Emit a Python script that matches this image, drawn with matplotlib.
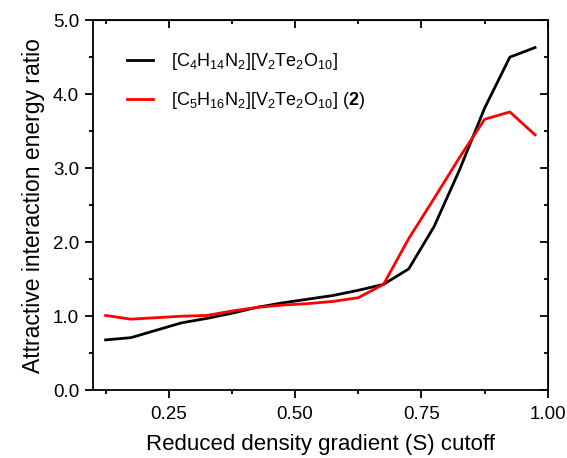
import matplotlib
matplotlib.use('Agg')
import matplotlib.pyplot as plt
from matplotlib.ticker import MultipleLocator

plt.rcParams['font.family'] = 'Liberation Sans'
plt.rcParams['mathtext.fontset'] = 'custom'
plt.rcParams['mathtext.rm'] = 'Liberation Sans'
plt.rcParams['mathtext.it'] = 'Liberation Sans:italic'
plt.rcParams['mathtext.bf'] = 'Liberation Sans:bold'
plt.rcParams['mathtext.default'] = 'regular'

# S cutoff values
s_cut = [0.125, 0.175, 0.225, 0.275, 0.325, 0.375, 0.425, 0.475, 0.525,
         0.575, 0.625, 0.675, 0.725, 0.775, 0.825, 0.875, 0.925, 0.975]
ratio_c4 = [0.68, 0.71, 0.81, 0.91, 0.97, 1.04, 1.12, 1.18, 1.23,
            1.28, 1.35, 1.43, 1.64, 2.21, 2.97, 3.81, 4.50, 4.63]
ratio_c5 = [1.01, 0.96, 0.98, 1.00, 1.01, 1.07, 1.12, 1.15, 1.17,
            1.20, 1.25, 1.43, 2.05, 2.59, 3.14, 3.66, 3.76, 3.45]

label_c4 = r'[C$_4$H$_{14}$N$_2$][V$_2$Te$_2$O$_{10}$]'
label_c5 = r'[C$_5$H$_{16}$N$_2$][V$_2$Te$_2$O$_{10}$] ($\mathbf{2}$)'

fig = plt.figure(figsize=(5.67, 4.58), dpi=100)
ax = fig.add_axes([0.164, 0.148, 0.802, 0.808])

ax.plot(s_cut, ratio_c4, color='black', lw=2.0, label=label_c4)
ax.plot(s_cut, ratio_c5, color='#ff0000', lw=2.0, label=label_c5)

ax.set_xlim(0.1, 1.0)
ax.set_ylim(0, 5)
ax.xaxis.set_minor_locator(MultipleLocator(0.125))
ax.yaxis.set_major_locator(MultipleLocator(1.0))
ax.yaxis.set_minor_locator(MultipleLocator(0.5))
ax.set_xticks([0.25, 0.5, 0.75, 1.0])
ax.set_xticklabels(['0.25', '0.50', '0.75', '1.00'])
ax.set_yticks([0, 1, 2, 3, 4, 5])
ax.set_yticklabels(['0.0', '1.0', '2.0', '3.0', '4.0', '5.0'])

for sp in ax.spines.values():
    sp.set_linewidth(1.3)

ax.tick_params(which='both', direction='out', width=1.3, labelsize=13.5)
ax.tick_params(axis='x', pad=5.5)
ax.tick_params(axis='y', pad=4)
ax.tick_params(which='major', length=6)
ax.tick_params(which='minor', length=3)

# mirrored ticks on top and right, pointing inward
top = ax.secondary_xaxis('top')
top.set_xticks([0.25, 0.5, 0.75, 1.0])
top.xaxis.set_minor_locator(MultipleLocator(0.125))
top.tick_params(which='both', direction='in', width=1.3, labeltop=False)
top.tick_params(which='major', length=6)
top.tick_params(which='minor', length=3)
right = ax.secondary_yaxis('right')
right.yaxis.set_major_locator(MultipleLocator(1.0))
right.yaxis.set_minor_locator(MultipleLocator(0.5))
right.tick_params(which='both', direction='in', width=1.3, labelright=False)
right.tick_params(which='major', length=6)
right.tick_params(which='minor', length=3)

ax.set_xlabel('Reduced density gradient (S) cutoff', fontsize=16)
ax.xaxis.set_label_coords(0.5, -0.117)
ax.set_ylabel('Attractive interaction energy ratio', fontsize=16.5, labelpad=6)

ax.legend(loc='upper left', frameon=False, fontsize=13, handlelength=1.4,
          handletextpad=1.0, labelspacing=1.0, borderaxespad=1.0,
          bbox_to_anchor=(0.02, 0.985))

fig.savefig('out.png', dpi=100)
